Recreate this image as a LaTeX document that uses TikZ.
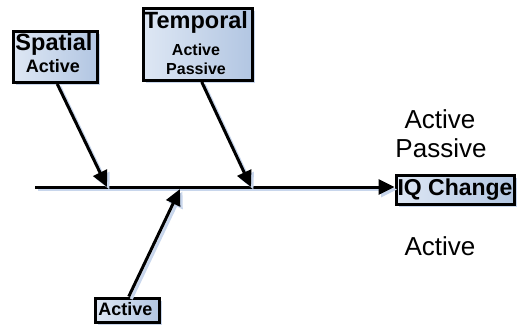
\documentclass[tikz,border=0pt]{standalone}
\usepackage{fontspec}
\setmainfont{Liberation Sans}
\usetikzlibrary{arrows.meta,shadows}
\definecolor{boxlight}{RGB}{222,231,244}
\definecolor{boxblue}{RGB}{178,198,226}
\definecolor{shadowblue}{RGB}{200,214,236}
\tikzset{
  fishbox/.style={draw=black, line width=3.5pt, left color=boxlight, right color=boxblue,
    drop shadow={shadow xshift=3pt, shadow yshift=-3pt, fill=shadowblue, opacity=1},
    inner sep=0pt, anchor=north west},
  boldtxt/.style={font=\bfseries, inner sep=0pt, anchor=base},
  plaintxt/.style={inner sep=0pt, anchor=base, font=\fontsize{26}{30}\selectfont},
  bone/.style={line width=3pt, -{Triangle[length=16pt,width=15pt]},
    preaction={draw=shadowblue, line width=3pt, transform canvas={shift={(2.5pt,-2.5pt)}}}}
}
\begin{document}
\begin{tikzpicture}[x=1pt,y=-1pt]
\useasboundingbox (0,0) rectangle (518,324);
% boxes
\node[fishbox, minimum width=84pt, minimum height=51pt] (sp) at (11.5,29.5) {};
\node[fishbox, minimum width=109pt, minimum height=72pt] (tp) at (141.5,6.5) {};
\node[fishbox, minimum width=118pt, minimum height=29pt] (iq) at (394.5,173.5) {};
\node[fishbox, minimum width=64pt, minimum height=24pt] (ab) at (93.5,296.5) {};
% box texts
\node[boldtxt, font=\bfseries\fontsize{23.5}{23.5}\selectfont] (spt) at (54,50) {Spatial};
\node[boldtxt, font=\bfseries\fontsize{18}{18}\selectfont] (spa) at (53,72) {Active};
\node[boldtxt, font=\bfseries\fontsize{23.5}{23.5}\selectfont] (tpt) at (196,28) {Temporal};
\node[boldtxt, font=\bfseries\fontsize{16}{16}\selectfont] (tpa) at (196,55) {Active};
\node[boldtxt, font=\bfseries\fontsize{16}{16}\selectfont] (tpp) at (196,74) {Passive};
\node[boldtxt, font=\bfseries\fontsize{23}{23}\selectfont] (iqt) at (455,195.5) {IQ Change};
\node[boldtxt, font=\bfseries\fontsize{18}{18}\selectfont] (abt) at (125.5,315.5) {Active};
% plain texts
\node[plaintxt] (r1) at (440,128) {Active};
\node[plaintxt] (r2) at (441,157) {Passive};
\node[plaintxt] (r3) at (440,255) {Active};
% spine and bones
\coordinate (tail) at (35,187);
\coordinate (h1) at (107,187);
\coordinate (h2) at (251,187);
\coordinate (h3) at (180,189);
\draw[bone] (tail) -- (iq.west |- tail);
\draw[bone] ([xshift=2pt]sp.south) -- (h1);
\draw[bone] ([xshift=4pt]tp.south) -- (h2);
\draw[bone] ([xshift=1.5pt]ab.north) -- (h3);
\end{tikzpicture}
\end{document}
